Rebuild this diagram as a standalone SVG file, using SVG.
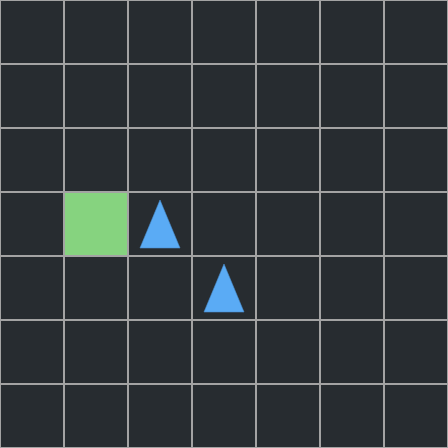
<svg xmlns="http://www.w3.org/2000/svg" width="448" height="448" viewBox="0 0 448 448">
<style>
.grid line{stroke:#a3a3a3;stroke-width:2}
.tri{fill:#5aabf5;stroke:#4a8fd0;stroke-width:0.6}
</style>
<rect x="0" y="0" width="448" height="448" fill="#272c30"/>
<g id="goal"><rect x="64" y="192" width="64" height="64" fill="#86d37f"/></g>
<g class="grid" id="grid">
<line x1="0" y1="0" x2="448" y2="0"/>
<line x1="0" y1="64" x2="448" y2="64"/>
<line x1="0" y1="128" x2="448" y2="128"/>
<line x1="0" y1="192" x2="448" y2="192"/>
<line x1="0" y1="256" x2="448" y2="256"/>
<line x1="0" y1="320" x2="448" y2="320"/>
<line x1="0" y1="384" x2="448" y2="384"/>
<line x1="0" y1="448" x2="448" y2="448"/>
<line x1="0" y1="0" x2="0" y2="448"/>
<line x1="64" y1="0" x2="64" y2="448"/>
<line x1="128" y1="0" x2="128" y2="448"/>
<line x1="192" y1="0" x2="192" y2="448"/>
<line x1="256" y1="0" x2="256" y2="448"/>
<line x1="320" y1="0" x2="320" y2="448"/>
<line x1="384" y1="0" x2="384" y2="448"/>
<line x1="448" y1="0" x2="448" y2="448"/>
</g>
<g id="agent1"><polygon class="tri" points="160,200 140,248 180,248"/></g>
<g id="agent2"><polygon class="tri" points="224,264 204,312 244,312"/></g>
</svg>
